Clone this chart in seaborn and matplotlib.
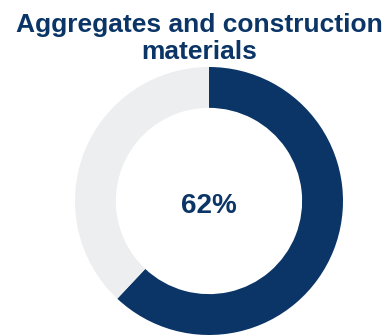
import matplotlib
matplotlib.use("Agg")
import matplotlib.pyplot as plt
import seaborn as sns

# Share of the segment
categories = ["Aggregates and construction materials", "Other"]
shares = [62, 38]
title_lines = ["Aggregates and construction", "materials"]
center_label = "62%"

navy = "#0b3566"
light_grey = "#edeef0"

sns.set_theme(style="white")
plt.rcParams["font.family"] = ["Liberation Sans", "DejaVu Sans"]

W, H = 387, 335
fig = plt.figure(figsize=(W / 100, H / 100), dpi=100)
ax = fig.add_axes([75 / W, 0.0, 268 / W, 268 / H])

ax.pie(
    shares,
    colors=[navy, light_grey],
    startangle=90,
    counterclock=False,
    radius=1.0,
    wedgeprops=dict(width=0.305, edgecolor="none"),
)
ax.set_xlim(-1, 1)
ax.set_ylim(-1, 1)
ax.set_aspect("equal")
ax.axis("off")

ax.text(0, -12 / 134, center_label, ha="center", va="baseline",
        fontsize=20, fontweight="bold", color=navy)

# Two-line title, each line placed on its own baseline
for line, baseline in zip(title_lines, [32, 59]):
    fig.text(199 / W, 1 - baseline / H, line, ha="center", va="baseline",
             fontsize=19, fontweight="bold", color=navy)

fig.savefig("out.png", dpi=100)
